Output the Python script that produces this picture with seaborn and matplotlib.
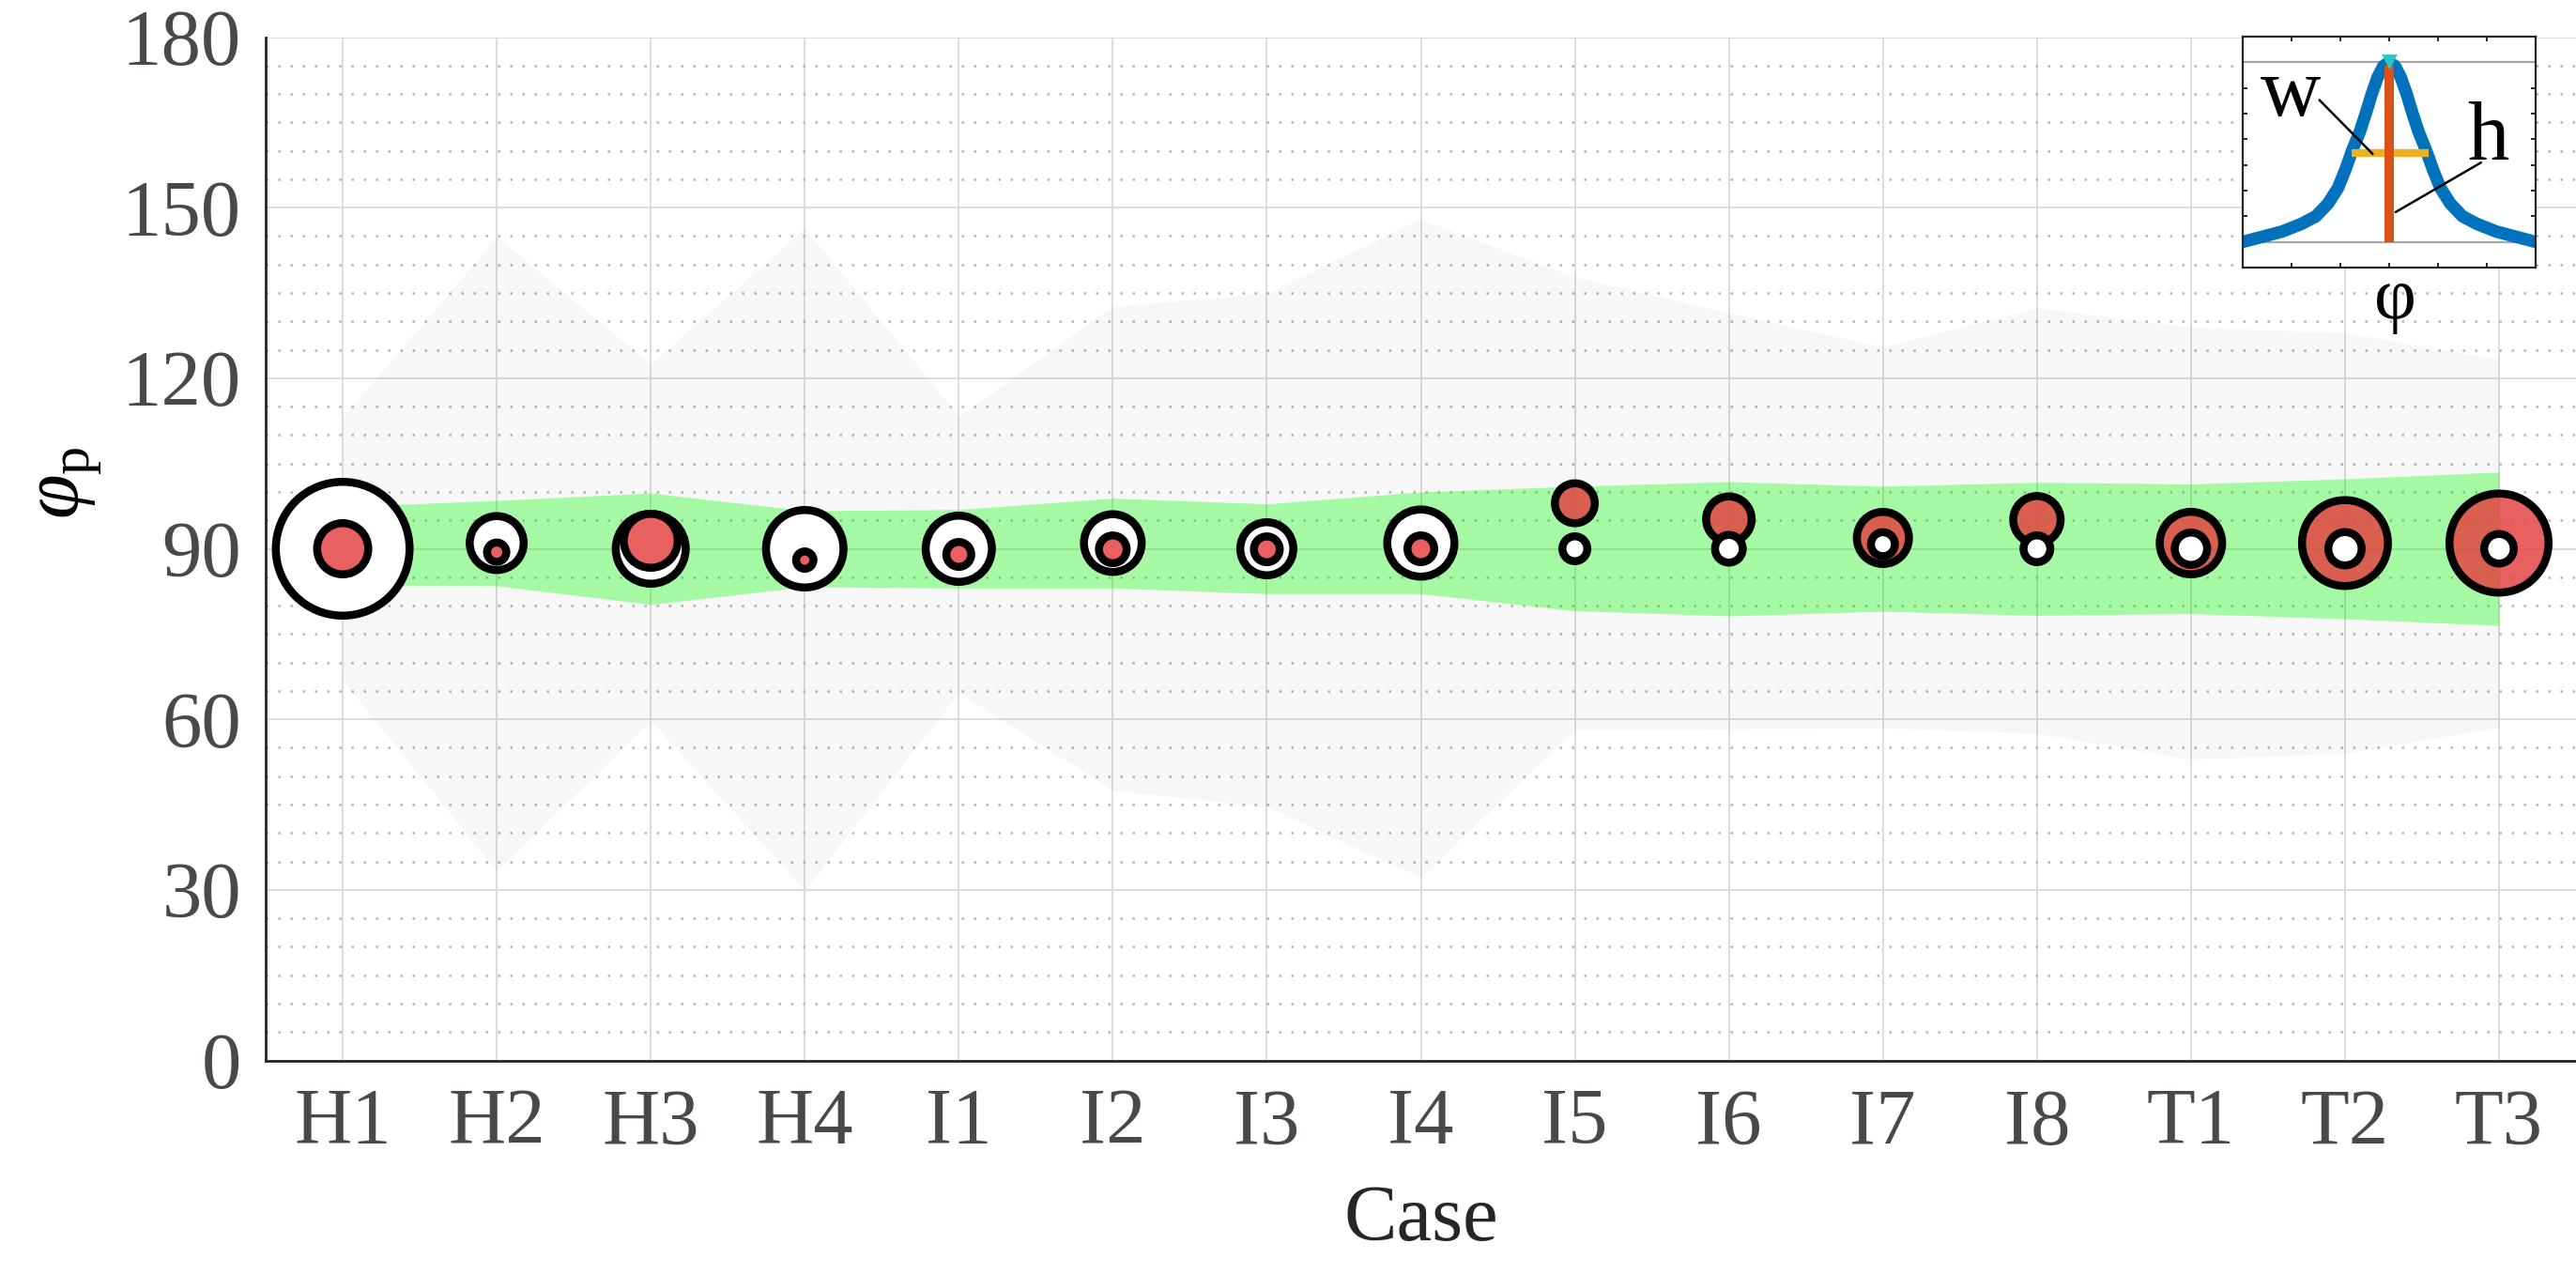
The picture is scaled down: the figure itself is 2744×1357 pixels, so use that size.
import numpy as np
import pandas as pd
import seaborn as sns
import matplotlib.pyplot as plt
from matplotlib.ticker import MultipleLocator

# cases along the x axis
cases = ['H1', 'H2', 'H3', 'H4', 'I1', 'I2', 'I3', 'I4', 'I5', 'I6', 'I7', 'I8', 'T1', 'T2', 'T3']

# light gray envelope (min / max)
gray_hi = [113.0, 144.9, 122.5, 146.4, 113.3, 132.6, 135.0, 148.0, 137.8, 131.5, 125.5, 132.4, 129.0, 128.0, 123.3]
gray_lo = [66.9, 33.3, 59.7, 30.0, 64.7, 47.5, 44.6, 32.2, 58.2, 58.3, 58.5, 57.5, 53.0, 54.0, 58.6]

# green band
green_hi = [97.4, 98.5, 99.8, 96.7, 96.9, 98.9, 97.9, 100.0, 101.0, 101.8, 101.0, 101.7, 101.4, 102.3, 103.5]
green_lo = [83.5, 83.5, 80.2, 83.3, 83.1, 83.1, 82.1, 82.1, 79.1, 78.2, 79.0, 78.3, 78.6, 77.7, 76.5]

# red circles: peak location and relative magnitude
red_phi = [90.0, 89.4, 91.4, 88.0, 89.0, 89.9, 89.9, 90.0, 98.0, 95.2, 91.9, 95.1, 91.0, 91.0, 91.0]
red_mag = [63, 29, 66, 27, 35, 38, 36, 37, 51, 57, 64, 59, 75, 100, 114]

# white circles: peak location and relative magnitude
white_phi = [90.0, 91.0, 90.0, 90.0, 90.0, 91.0, 90.0, 91.0, 90.0, 90.0, 90.8, 90.0, 90.0, 90.0, 90.0]
white_mag = [151, 66, 83, 91, 79, 70, 65, 80, 35, 38, 34, 37, 43, 44, 40]

# inset sketch of a single peak
peak_x = [-3.0, -2.6, -2.2, -1.8, -1.5, -1.25, -1.05, -0.9, -0.75, -0.6, -0.48, -0.36, -0.24, -0.12, 0.0,
          0.12, 0.24, 0.36, 0.48, 0.6, 0.75, 0.9, 1.05, 1.25, 1.5, 1.8, 2.2, 2.6, 3.0]
peak_y = [1.0, 1.2, 1.4, 1.7, 2.0, 2.5, 3.1, 3.8, 4.6, 5.3, 6.0, 6.75, 7.4, 7.85, 8.0,
          7.85, 7.4, 6.75, 6.0, 5.3, 4.6, 3.8, 3.1, 2.5, 2.0, 1.7, 1.4, 1.2, 1.0]
half_y = 4.45
half_x = [-0.77, 0.81]

sns.set_style("white")
plt.rcParams['font.family'] = ['Liberation Serif', 'DejaVu Sans']
plt.rcParams['mathtext.fontset'] = 'custom'
plt.rcParams['mathtext.rm'] = 'Liberation Serif'
plt.rcParams['mathtext.it'] = 'Liberation Serif:italic'

DPI = 200
fig = plt.figure(figsize=(2744 / DPI, 1357 / DPI), dpi=DPI)
ax = fig.add_axes([283 / 2744, (1357 - 1129.5) / 1357, 1 - 283 / 2744, 1090 / 1357])

pos = np.arange(1, len(cases) + 1)
ax.fill_between(pos, gray_lo, gray_hi, color='k', alpha=0.03, lw=0, zorder=1)
ax.fill_between(pos, green_lo, green_hi, color=(0, 1, 0), alpha=0.33, lw=0, zorder=1.5)

df = pd.DataFrame({
    'case': np.concatenate([pos, pos]),
    'phi': red_phi + white_phi,
    'mag': red_mag + white_mag,
    'kind': ['red'] * len(cases) + ['white'] * len(cases),
})
# bigger circles first so small ones stay visible
df = df.sort_values('mag', ascending=False).reset_index(drop=True)
edge_px = 8.5
sizes = ((df['mag'].to_numpy() - edge_px) * 72 / DPI) ** 2

sns.scatterplot(data=df, x='case', y='phi', hue='kind',
                palette={'red': (0.894, 0.251, 0.251, 0.83), 'white': (1, 1, 1, 1)},
                s=sizes, edgecolor='black', linewidth=edge_px * 72 / DPI,
                legend=False, ax=ax, zorder=3)

ax.set_xlim(0.5, 15.5)
ax.set_ylim(0, 180)
ax.set_xticks(pos)
ax.set_xticklabels(cases)
ax.set_yticks(np.arange(0, 181, 30))
ax.yaxis.set_minor_locator(MultipleLocator(5))

ax.grid(which='major', color='#dcdcdc', lw=0.7)
ax.grid(which='minor', axis='y', color='#b4b4b4', lw=0.9, linestyle=(0, (1, 4.2)))
ax.set_axisbelow(True)
ax.tick_params(which='minor', length=0)
ax.tick_params(which='major', direction='in', length=9, width=0.8, color='#262626',
               labelsize=30.5, labelcolor='#4d4848')
ax.tick_params(axis='y', pad=9.4)
ax.tick_params(axis='x', pad=10.8)
for side in ['top', 'right']:
    ax.spines[side].set_visible(False)
for side in ['left', 'bottom']:
    ax.spines[side].set_color('#262626')
    ax.spines[side].set_linewidth(1.0)

ax.set_xlabel('Case', fontsize=30.5, color='#262626')
ax.xaxis.set_label_coords(0.5, -0.122)
ax.set_ylabel(r'$\varphi_\mathrm{p}$', fontsize=31, color='black')
ax.yaxis.set_label_coords(-0.0703, 0.564)

# inset: definition of h and w
ax_in = fig.add_axes([2389 / 2744, (1357 - 285) / 1357, 312 / 2744, 246 / 1357])
ax_in.set_facecolor('white')
ax_in.axhline(1, color='#a6a6a6', lw=0.8, zorder=1)
ax_in.axhline(8, color='#a6a6a6', lw=0.8, zorder=1)
sns.lineplot(x=peak_x, y=peak_y, ax=ax_in, color='#0072BD', lw=4.8, zorder=2)
ax_in.plot(half_x, [half_y, half_y], color='#EDB120', lw=3.0, solid_capstyle='butt', zorder=3)
ax_in.plot([0, 0], [1, 7.88], color='#D95319', lw=3.6, solid_capstyle='butt', zorder=4)
ax_in.plot([0], [8.05], marker='v', ms=4.5, color='#2ec4c8', zorder=5)
ax_in.plot([-1.43, -0.34], [6.53, 4.43], color='black', lw=0.9, zorder=6)
ax_in.plot([1.88, 0.13], [4.09, 2.16], color='black', lw=0.9, zorder=6)
ax_in.text(-2.02, 5.92, 'w', ha='center', va='baseline', fontsize=32, color='black')
ax_in.text(2.02, 4.21, 'h', ha='center', va='baseline', fontsize=32, color='black')

ax_in.set_xlim(-3, 3)
ax_in.set_ylim(0, 9)
ax_in.set_xticks([-2, -1, 0, 1, 2])
ax_in.set_yticks(np.arange(1, 9))
ax_in.grid(False)
ax_in.tick_params(direction='in', length=1.8, width=0.7, color='#262626',
                  top=True, right=True, bottom=True, left=True,
                  labelbottom=False, labelleft=False)
for side in ax_in.spines.values():
    side.set_visible(True)
    side.set_color('#262626')
    side.set_linewidth(0.8)
ax_in.set_xlabel('φ', fontsize=28, color='black')
ax_in.xaxis.set_label_coords(0.52, 0.0)

fig.savefig('out.png', dpi=DPI)
